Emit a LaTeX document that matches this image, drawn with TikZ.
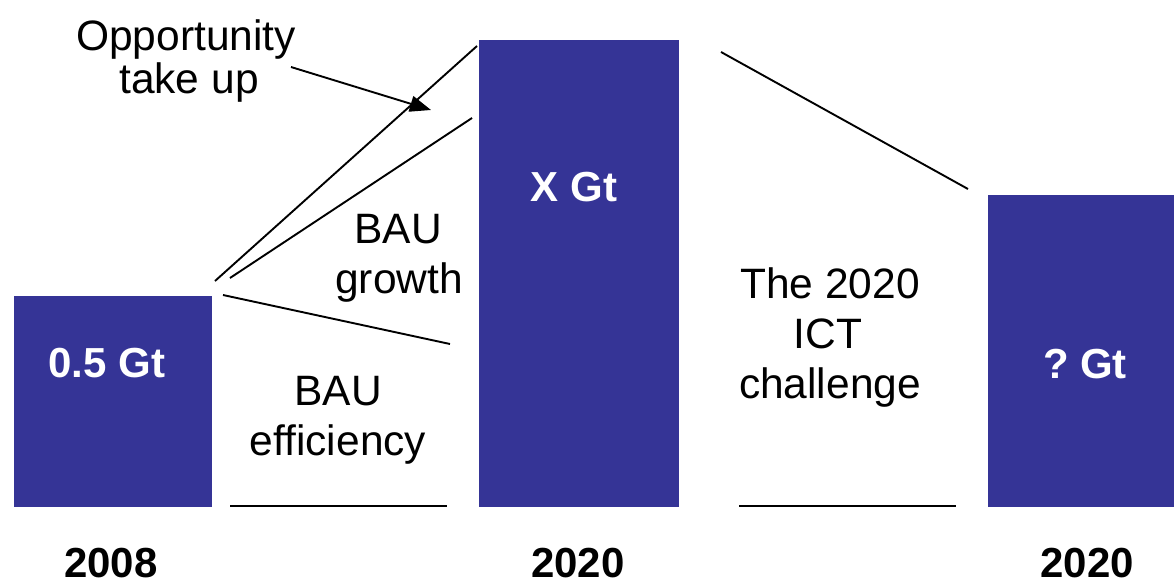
\documentclass[tikz,border=0pt]{standalone}
\usepackage{fontspec}
\setmainfont{Liberation Sans}
\usetikzlibrary{arrows.meta}
\definecolor{barblue}{RGB}{53,52,150}
\begin{document}
\begin{tikzpicture}[x=1pt,y=-1pt,
  bar/.style={fill=barblue,draw=none,inner sep=0pt,anchor=south west},
  val/.style={text=white,font=\fontsize{42}{50}\selectfont\bfseries,anchor=base,inner sep=0pt},
  year/.style={text=black,font=\fontsize{42}{50}\selectfont\bfseries,anchor=base,inner sep=0pt,text depth=0pt},
  lbl/.style={font=\fontsize{42.5}{50}\selectfont,anchor=base,inner sep=0pt},
  rule/.style={draw=black,line width=1.9pt},
  pointer/.style={rule,-{Triangle[length=21pt,width=16pt]}}]
\useasboundingbox (0,0) rectangle (1174,584);

% bars
\node[bar,minimum width=198pt,minimum height=211pt] (b2008) at (14,507) {};
\node[bar,minimum width=200pt,minimum height=467pt] (bx) at (479,507) {};
\node[bar,minimum width=186pt,minimum height=312pt] (bq) at (988,507) {};

% values inside bars
\node[val] (v2008) at (107,377) {0.5 Gt};
\node[val] (vx) at (574,201) {X Gt};
\node[val] (vq) at (1085,378) {?~Gt};

% years under bars
\node[year] (y2008) at (111,577) {2008};
\node[year] (y2020a) at (578,577) {2020};
\node[year] (y2020b) at (1087,577) {2020};

% text labels
\node[lbl] (opp1) at (186,50.5) {Opportunity};
\node[lbl] (opp2) at (189,93) {take up};
\node[lbl] (grow1) at (398,243) {BAU};
\node[lbl] (grow2) at (399,293) {growth};
\node[lbl] (eff1) at (338,405) {BAU};
\node[lbl] (eff2) at (338,455) {efficiency};
\node[lbl] (ict1) at (830,298) {The 2020};
\node[lbl] (ict2) at (828,348) {ICT};
\node[lbl] (ict3) at (830,398) {challenge};

% wedge lines between the bars
\coordinate (a0) at (215,281);  \coordinate (a1) at (477,46);
\coordinate (g0) at (230,278);  \coordinate (g1) at (472,118);
\coordinate (e0) at (223,295);  \coordinate (e1) at (450,344);
\coordinate (c0) at (721,52);   \coordinate (c1) at (968,189);
\coordinate (h0) at (230,506);  \coordinate (h1) at (447,506);
\coordinate (k0) at (739,506);  \coordinate (k1) at (956,506);
\coordinate (p0) at (291,67);   \coordinate (p1) at (431,110);

\draw[rule] (a0) -- (a1);
\draw[rule] (g0) -- (g1);
\draw[rule] (e0) -- (e1);
\draw[rule] (c0) -- (c1);
\draw[rule] (h0) -- (h1);
\draw[rule] (k0) -- (k1);
\draw[pointer] (p0) -- (p1);
\end{tikzpicture}
\end{document}
